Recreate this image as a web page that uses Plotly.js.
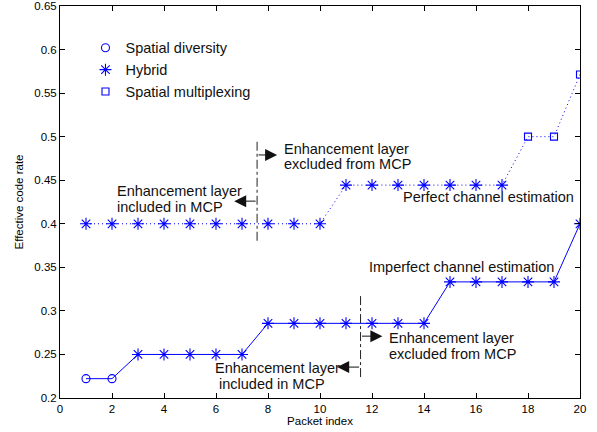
<!DOCTYPE html>
<html>
<head>
<meta charset="utf-8">
<script src="https://cdn.plot.ly/plotly-3.0.1.min.js"></script>
<style>html,body{margin:0;padding:0;background:#fff;}#chart{width:597px;height:432px;}</style>
</head>
<body>
<div id="chart"></div>
<script>
// ---- data ----
const packetIndex = [1,2,3,4,5,6,7,8,9,10,11,12,13,14,15,16,17,18,19,20];
const imperfectRate = [0.2222,0.2222,0.25,0.25,0.25,0.25,0.25,0.2857,0.2857,0.2857,0.2857,0.2857,0.2857,0.2857,0.3333,0.3333,0.3333,0.3333,0.3333,0.4];
const perfectRate = [0.4,0.4,0.4,0.4,0.4,0.4,0.4,0.4,0.4,0.4,0.4444,0.4444,0.4444,0.4444,0.4444,0.4444,0.4444,0.5,0.5,0.5714];
const imperfectMode = ['Spatial diversity','Spatial diversity','Hybrid','Hybrid','Hybrid','Hybrid','Hybrid','Hybrid','Hybrid','Hybrid','Hybrid','Hybrid','Hybrid','Hybrid','Hybrid','Hybrid','Hybrid','Hybrid','Hybrid','Hybrid'];
const perfectMode = ['Hybrid','Hybrid','Hybrid','Hybrid','Hybrid','Hybrid','Hybrid','Hybrid','Hybrid','Hybrid','Hybrid','Hybrid','Hybrid','Hybrid','Hybrid','Hybrid','Hybrid','Spatial multiplexing','Spatial multiplexing','Spatial multiplexing'];
const modeNames = ['Spatial diversity','Hybrid','Spatial multiplexing'];
const xTickVals = [0,2,4,6,8,10,12,14,16,18,20];
const yTickVals = [0.2,0.25,0.3,0.35,0.4,0.45,0.5,0.55,0.6,0.65];
const yTickText = ['0.2','0.25','0.3','0.35','0.4','0.45','0.5','0.55','0.6','0.65'];
// boundary markers (packet index where enhancement layer becomes excluded)
const perfectBoundary = {x: 7.58, y0: 0.3805, y1: 0.4944, yRight: 0.479, yLeft: 0.426, xRightHead: 8.35, xLeftHead: 6.7};
const imperfectBoundary = {x: 11.56, y0: 0.224, y1: 0.319, yRight: 0.271, yLeft: 0.2355, xRightHead: 12.4, xLeftHead: 10.66};
const labelLine1 = 'Enhancement layer';
const labelExcluded = 'excluded from MCP';
const labelIncluded = 'included in MCP';

const blue = '#0000ff';
const symbols = {'Spatial diversity': 'circle-open', 'Hybrid': 'asterisk-open', 'Spatial multiplexing': 'square-open'};
const sizes = {'Spatial diversity': 8, 'Hybrid': 10, 'Spatial multiplexing': 7};

const traces = [
  {x: packetIndex, y: perfectRate, mode: 'lines', line: {color: blue, width: 1, dash: '1px,3px'}, showlegend: false, hoverinfo: 'skip'},
  {x: packetIndex, y: imperfectRate, mode: 'lines', line: {color: blue, width: 1}, showlegend: false, hoverinfo: 'skip'}
];
modeNames.forEach(function(m){
  const xs = [], ys = [];
  packetIndex.forEach(function(p, i){
    if (imperfectMode[i] === m) { xs.push(p); ys.push(imperfectRate[i]); }
  });
  packetIndex.forEach(function(p, i){
    if (perfectMode[i] === m) { xs.push(p); ys.push(perfectRate[i]); }
  });
  traces.push({
    x: xs, y: ys, mode: 'markers', name: m,
    marker: {symbol: symbols[m], size: sizes[m], color: blue, line: {color: blue, width: 1.1}}
  });
});

const font = {family: 'Liberation Sans, Arial, Helvetica, sans-serif', color: '#000'};
const annFont = {family: font.family, size: 14.5, color: '#111'};

function boundaryShapes(b){
  return {type: 'line', xref: 'x', yref: 'y', x0: b.x, x1: b.x, y0: b.y0, y1: b.y1,
          line: {color: '#222', width: 1, dash: 'dashdot'}};
}
function arrow(b, head, yv){
  return {x: head, y: yv, ax: b.x, ay: yv, xref: 'x', yref: 'y', axref: 'x', ayref: 'y',
          text: '', showarrow: true, arrowhead: 2, arrowsize: 2.4, arrowwidth: 1, arrowcolor: '#111'};
}
function label(x, y, t){
  return {x: x, y: y, xref: 'x', yref: 'y', text: t, showarrow: false, xanchor: 'left', yanchor: 'middle', font: annFont};
}

const annotations = [
  arrow(perfectBoundary, perfectBoundary.xRightHead, perfectBoundary.yRight),
  arrow(perfectBoundary, perfectBoundary.xLeftHead, perfectBoundary.yLeft),
  arrow(imperfectBoundary, imperfectBoundary.xRightHead, imperfectBoundary.yRight),
  arrow(imperfectBoundary, imperfectBoundary.xLeftHead, imperfectBoundary.yLeft),
  label(8.52, 0.486, labelLine1), label(8.52, 0.4684, labelExcluded),
  label(2.1, 0.438, labelLine1), label(2.1, 0.4196, labelIncluded),
  label(12.58, 0.2693, labelLine1), label(12.58, 0.2501, labelExcluded),
  label(5.9, 0.2348, labelLine1), label(6.03, 0.2164, labelIncluded),
  label(13.1, 0.4311, 'Perfect channel estimation'),
  label(11.82, 0.3499, 'Imperfect channel estimation')
];

const axisCommon = {
  showline: true, linecolor: '#000', linewidth: 1, mirror: 'ticks', ticks: 'inside', ticklen: 5,
  tickcolor: '#000', tickwidth: 1, showgrid: false, zeroline: false,
  tickfont: {family: font.family, size: 11.5, color: '#000'}
};

const layout = {
  width: 597, height: 432,
  margin: {l: 60, r: 17, t: 6, b: 34},
  paper_bgcolor: '#fff', plot_bgcolor: '#fff',
  font: font,
  showlegend: true,
  legend: {x: 0.049, y: 0.934, xanchor: 'left', yanchor: 'top', bgcolor: 'rgba(0,0,0,0)', borderwidth: 0,
           font: {family: font.family, size: 14.5, color: '#111'}, tracegroupgap: 0},
  xaxis: Object.assign({}, axisCommon, {range: [0, 20], tickvals: xTickVals,
    title: {text: 'Packet index', font: {family: font.family, size: 11.5, color: '#000'}, standoff: 3}}),
  yaxis: Object.assign({}, axisCommon, {range: [0.2, 0.65], tickvals: yTickVals, ticktext: yTickText,
    title: {text: 'Effective code rate', font: {family: font.family, size: 11.5, color: '#000'}, standoff: 8}}),
  shapes: [boundaryShapes(perfectBoundary), boundaryShapes(imperfectBoundary)],
  annotations: annotations
};

Plotly.newPlot('chart', traces, layout, {displayModeBar: false, staticPlot: true});
</script>
</body>
</html>
